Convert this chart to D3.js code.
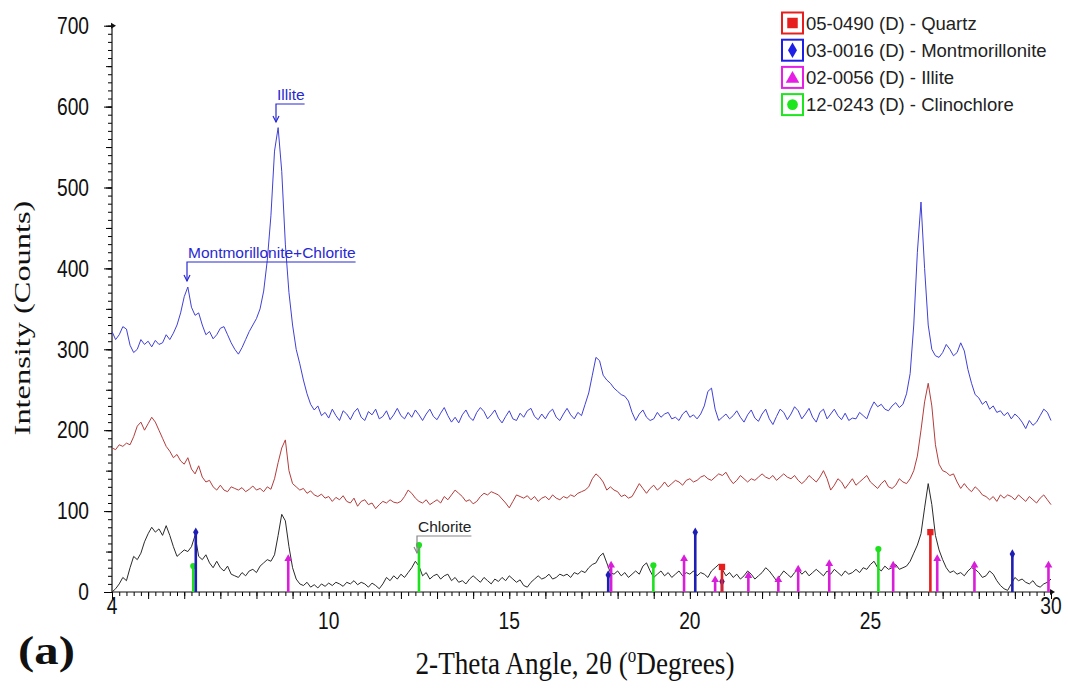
<!DOCTYPE html>
<html>
<head>
<meta charset="utf-8">
<title>XRD pattern (a)</title>
<script src="https://d3js.org/d3.v7.min.js"></script>
<style>
  body { margin: 0; background: #fff; }
  svg { display: block; }
  .tick-num { font-family: "Liberation Sans", Arial, sans-serif; font-size: 24px; fill: #111; }
  .note { font-family: "Liberation Sans", Arial, sans-serif; font-size: 15.5px; }
  .legend-txt { font-family: "Liberation Sans", Arial, sans-serif; font-size: 18.5px; fill: #222; }
  .serif { font-family: "Liberation Serif", "Times New Roman", serif; fill: #111; }
</style>
</head>
<body>
<svg id="chart" width="1068" height="688"></svg>
<script>
// 2-theta grid: 4.0 .. 30.0, step 0.1
var twoTheta = d3.range(0, 261).map(function(i) { return +(4 + i * 0.1).toFixed(1); });

// top trace (blue)
var blueCounts = [
  322, 312, 318, 328, 325, 305, 296, 300, 312, 306,
  310, 303, 311, 306, 308, 318, 312, 320, 330, 345,
  365, 377, 352, 342, 345, 330, 318, 322, 313, 318,
  326, 328, 318, 308, 300, 294, 302, 312, 322, 330,
  338, 350, 372, 410, 465, 545, 574, 520, 430, 370,
  330, 300, 282, 262, 245, 232, 225, 230, 218, 222,
  215, 226, 218, 212, 224, 220, 213, 222, 227, 216,
  212, 223, 219, 226, 214, 217, 224, 213, 219, 227,
  218, 214, 222, 216, 225, 219, 212, 220, 226, 217,
  213, 221, 228, 218, 210, 216, 209, 219, 225, 216,
  212, 222, 228, 223, 214, 219, 225, 215, 209, 217,
  224, 214, 212, 221, 216, 224, 227, 217, 213, 220,
  214, 222, 226, 216, 212, 220, 227, 219, 214, 222,
  218, 232, 246, 268, 290, 286, 268, 262, 258, 252,
  248, 244, 242, 236, 222, 212, 220, 225, 216, 212,
  214, 222, 216, 220, 222, 214, 216, 212, 220, 224,
  216, 219, 214, 220, 230, 248, 252, 226, 212, 216,
  220, 214, 218, 224, 216, 210, 219, 225, 215, 211,
  220, 226, 214, 207, 217, 226, 222, 213, 220, 229,
  224, 214, 220, 227, 216, 210, 222, 226, 214, 220,
  226, 218, 213, 221, 212, 215, 214, 222, 218, 214,
  226, 235, 229, 232, 226, 224, 230, 234, 228, 232,
  245, 270, 330, 420, 482, 400, 330, 300, 292, 290,
  296, 306, 300, 292, 296, 308, 298, 275, 258, 244,
  240, 232, 236, 226, 230, 222, 224, 218, 222, 214,
  220, 216, 210, 202, 212, 206, 210, 218, 226, 222,
  212
];

// middle trace (red)
var redCounts = [
  178, 176, 182, 180, 184, 182, 192, 205, 210, 200,
  208, 216, 210, 200, 190, 180, 174, 166, 170, 162,
  158, 166, 152, 146, 156, 142, 136, 138, 130, 126,
  132, 126, 124, 130, 128, 126, 129, 124, 127, 131,
  126, 128, 124, 130, 127, 140, 160, 178, 188, 150,
  134, 130, 126, 128, 122, 125, 120, 118, 121, 116,
  118, 112, 117, 114, 119, 112, 110, 116, 106, 112,
  114, 108, 110, 103, 108, 112, 110, 114, 111, 110,
  112, 118, 126, 122, 116, 112, 110, 114, 108, 111,
  114, 110, 118, 114, 120, 126, 122, 118, 112, 114,
  109, 112, 118, 122, 120, 124, 122, 120, 115, 110,
  104, 112, 120, 118, 116, 119, 114, 118, 112, 116,
  118, 114, 120, 116, 114, 118, 116, 120, 118, 122,
  124, 126, 130, 140, 146, 142, 136, 126, 130, 126,
  124, 118, 120, 116, 118, 126, 134, 128, 122, 128,
  132, 126, 130, 136, 130, 134, 138, 136, 132, 138,
  140, 136, 138, 142, 144, 140, 138, 142, 146, 144,
  148, 140, 134, 138, 144, 140, 136, 140, 138, 142,
  146, 142, 140, 144, 138, 142, 146, 142, 140, 144,
  138, 134, 138, 144, 140, 136, 142, 150, 140, 126,
  132, 140, 136, 128, 134, 140, 132, 136, 140, 144,
  136, 132, 128, 134, 138, 130, 128, 132, 140, 136,
  134, 140, 150, 168, 200, 235, 258, 230, 182, 158,
  150, 148, 144, 146, 136, 128, 134, 128, 124, 130,
  126, 120, 118, 114, 118, 112, 120, 116, 120, 118,
  114, 120, 116, 112, 118, 114, 110, 116, 120, 114,
  108
];

// bottom trace (black)
var blackCounts = [
  0, 4, 10, 18, 14, 30, 44, 40, 48, 62,
  72, 80, 74, 78, 70, 82, 70, 56, 44, 48,
  52, 50, 56, 70, 44, 40, 46, 36, 30, 38,
  30, 26, 32, 22, 20, 18, 24, 20, 26, 28,
  24, 32, 36, 40, 38, 46, 70, 96, 88, 56,
  30, 16, 10, 8, 12, 6, 9, 5, 10, 7,
  11, 8, 12, 10, 7, 12, 10, 14, 9, 12,
  10, 6, 11, 8, 4, 10, 18, 14, 20, 16,
  22, 18, 24, 30, 38, 32, 20, 24, 16, 20,
  22, 16, 20, 22, 14, 18, 12, 14, 10, 16,
  20, 16, 12, 18, 14, 10, 16, 13, 18, 14,
  20, 16, 12, 15, 8, 6, 12, 16, 20, 16,
  18, 22, 16, 18, 22, 20, 22, 18, 24, 22,
  26, 24, 30, 34, 36, 44, 48, 36, 24, 22,
  26, 20, 24, 18, 22, 26, 22, 32, 36, 26,
  18, 22, 26, 20, 24, 18, 22, 26, 20, 24,
  22, 26, 20, 24, 22, 18, 26, 30, 34, 28,
  20, 24, 18, 22, 16, 20, 26, 22, 16, 20,
  24, 30, 26, 20, 14, 20, 26, 22, 18, 24,
  28, 22, 26, 20, 24, 28, 24, 20, 26, 22,
  28, 24, 20, 26, 22, 24, 28, 24, 30, 28,
  34, 38, 30, 26, 32, 28, 30, 34, 28, 30,
  32, 38, 48, 58, 72, 104, 134, 108, 70, 52,
  40, 30, 24, 26, 22, 24, 20, 26, 30, 28,
  24, 18, 20, 26, 22, 14, 8, 4, 2, 10,
  18, 14, 16, 12, 10, 14, 8, 6, 10, 12,
  16
];

// reference (stick) patterns
var quartzPos = [20.89, 26.66];
var quartzHt  = [31, 74];
var montPos   = [6.32, 17.74, 20.15, 20.89, 28.93];
var montHt    = [74, 21, 74, 13, 47];
var illitePos = [8.88, 17.82, 19.84, 20.70, 21.62, 22.45, 23.00, 23.86, 25.63, 26.85, 27.88, 29.93];
var illiteHt  = [41, 33, 41, 15, 20, 15, 28, 35, 33, 41, 33, 33];
var chlorPos  = [6.25, 12.50, 18.99, 25.22];
var chlorHt   = [32, 58, 33, 53];

var legendLabels = ["05-0490 (D) - Quartz", "03-0016 (D) - Montmorillonite",
                    "02-0056 (D) - Illite", "12-0243 (D) - Clinochlore"];
var yLabels = [0, 100, 200, 300, 400, 500, 600, 700];
var xLabels = [4, 10, 15, 20, 25, 30];

var svg = d3.select("#chart");

var x = d3.scaleLinear().domain([4, 30]).range([112, 1051]);
var y = d3.scaleLinear().domain([0, 700]).range([592, 25.7]);

// ---- axes ----
var axes = svg.append("g").attr("stroke", "#111").attr("fill", "none");

function yAxis(vals, len) {
  axes.append("g")
    .attr("transform", "translate(112,0)")
    .call(d3.axisLeft(y).tickValues(vals).tickSize(len).tickFormat(""))
    .call(function(g) { g.select(".domain").remove(); });
}
function xAxis(vals, len) {
  axes.append("g")
    .attr("transform", "translate(0,592)")
    .call(d3.axisBottom(x).tickValues(vals).tickSize(len).tickFormat(""))
    .call(function(g) { g.select(".domain").remove(); });
}
yAxis(d3.range(0, 701, 10), 4);
yAxis(d3.range(0, 701, 50), 6);
yAxis(d3.range(0, 701, 100), 8);
xAxis(d3.range(4, 30.01, 0.2).map(function(v) { return +v.toFixed(1); }), 4);
xAxis(d3.range(4, 31, 1), 7);

axes.append("line").attr("x1", x(4)).attr("x2", x(30)).attr("y1", y(0)).attr("y2", y(0)).attr("stroke-width", 1.2);
axes.append("line").attr("x1", x(4)).attr("x2", x(4)).attr("y1", y(0)).attr("y2", y(700)).attr("stroke-width", 1.2);
// tiny end arrows
axes.append("path").attr("d", "M" + (x(4) - 1) + "," + (y(700) - 3) + "l5,3l-5,3z").attr("fill", "#111").attr("stroke", "none");
axes.append("path").attr("d", "M" + (x(30) - 1) + "," + (y(0) - 3) + "l5,3l-5,3z").attr("fill", "#111").attr("stroke", "none");

// tick numbers (narrow face)
svg.selectAll(".ylab").data(yLabels).enter().append("text")
  .attr("class", "tick-num")
  .attr("text-anchor", "end")
  .attr("dominant-baseline", "central")
  .attr("transform", function(d) { return "translate(89," + y(d) + ") scale(0.8,1)"; })
  .text(function(d) { return d; });

svg.selectAll(".xlab").data(xLabels).enter().append("text")
  .attr("class", "tick-num")
  .attr("text-anchor", "middle")
  .attr("dominant-baseline", "central")
  .attr("transform", function(d) {
    var off = (d === 4 || d === 30) ? 14 : 29;
    return "translate(" + x(d) + "," + (y(0) + off) + ") scale(0.8,1)";
  })
  .text(function(d) { return d; });

// ---- traces ----
var line = d3.line()
  .x(function(d, i) { return x(twoTheta[i]); })
  .y(function(d) { return y(d); });

svg.append("path").datum(blackCounts).attr("d", line)
  .attr("fill", "none").attr("stroke", "#2a2a2a").attr("stroke-width", 1);
svg.append("path").datum(redCounts).attr("d", line)
  .attr("fill", "none").attr("stroke", "#b43c3c").attr("stroke-width", 1);
svg.append("path").datum(blueCounts).attr("d", line)
  .attr("fill", "none").attr("stroke", "#4040d6").attr("stroke-width", 1);

// ---- reference sticks ----
var phases = [
  { pos: chlorPos,  ht: chlorHt,  col: "#1ee01e", sym: d3.symbolCircle,   size: 30 },
  { pos: illitePos, ht: illiteHt, col: "#d81ed8", sym: d3.symbolTriangle, size: 26 },
  { pos: montPos,   ht: montHt,   col: "#1e1eb4", sym: d3.symbolDiamond,  size: 26 },
  { pos: quartzPos, ht: quartzHt, col: "#e61e1e", sym: d3.symbolSquare,   size: 40 }
];
phases.forEach(function(p) {
  var g = svg.append("g");
  g.selectAll("line").data(p.pos).enter().append("line")
    .attr("x1", function(d) { return x(d); })
    .attr("x2", function(d) { return x(d); })
    .attr("y1", y(0))
    .attr("y2", function(d, i) { return y(p.ht[i]); })
    .attr("stroke", p.col).attr("stroke-width", 2.6);
  g.selectAll("path").data(p.pos).enter().append("path")
    .attr("d", d3.symbol().type(p.sym).size(p.size))
    .attr("transform", function(d, i) { return "translate(" + x(d) + "," + y(p.ht[i]) + ")"; })
    .attr("fill", p.col);
});

// ---- peak notes ----
function note(txt, tx, ty, at, col, lineCol) {
  var t = svg.append("text").attr("class", "note")
    .attr("x", tx).attr("y", ty).attr("fill", col).text(txt);
  var w = t.node().getComputedTextLength();
  var ly = ty + 4;
  svg.append("path")
    .attr("d", "M" + (tx + w) + "," + ly + "H" + (tx - 1) + "V" + at)
    .attr("fill", "none").attr("stroke", lineCol).attr("stroke-width", 1.2);
  svg.append("path")
    .attr("d", "M" + (tx - 4) + "," + (at - 6) + "L" + (tx - 1) + "," + at + "L" + (tx + 2) + "," + (at - 6))
    .attr("fill", "none").attr("stroke", lineCol).attr("stroke-width", 1.2);
}
note("Illite", 277, 100, 122, "#2828d2", "#2828d2");
note("Montmorillonite+Chlorite", 188, 258, 281, "#2828d2", "#2828d2");
note("Chlorite", 418, 532, 553, "#222", "#888");

// ---- legend ----
var legendCols = ["#e61e1e", "#1e1ee6", "#e61ee6", "#1ee61e"];
var legendSyms = [d3.symbolSquare, d3.symbolDiamond, d3.symbolTriangle, d3.symbolCircle];
var legendSizes = [110, 70, 80, 90];
var lg = svg.append("g");
legendLabels.forEach(function(lab, i) {
  var cy = 23 + i * 27.2;
  lg.append("rect").attr("x", 782).attr("y", cy - 10.5).attr("width", 21).attr("height", 21)
    .attr("fill", "#fff").attr("stroke", legendCols[i]).attr("stroke-width", 2);
  lg.append("path").attr("d", d3.symbol().type(legendSyms[i]).size(legendSizes[i]))
    .attr("transform", "translate(792.5," + (i === 2 ? cy + 1.5 : cy) + ")")
    .attr("fill", legendCols[i]);
  lg.append("text").attr("class", "legend-txt").attr("x", 806).attr("y", cy + 6.5).text(lab);
});

// ---- titles ----
svg.append("text").attr("class", "serif")
  .attr("text-anchor", "middle")
  .attr("transform", "translate(30,318) rotate(-90) scale(1.35,1)")
  .attr("font-size", 24)
  .text("Intensity (Counts)");

var xl = svg.append("text").attr("class", "serif")
  .attr("text-anchor", "middle")
  .attr("transform", "translate(575,674) scale(0.85,1)")
  .attr("font-size", 32);
xl.append("tspan").text("2-Theta Angle, 2\u03b8 (");
xl.append("tspan").attr("font-size", 20).attr("dy", -12).text("o");
xl.append("tspan").attr("dy", 12).text("Degrees)");

svg.append("text").attr("class", "serif")
  .attr("transform", "translate(18,664) scale(1.22,1)")
  .attr("font-size", 40).attr("font-weight", "bold")
  .text("(a)");
</script>
</body>
</html>
